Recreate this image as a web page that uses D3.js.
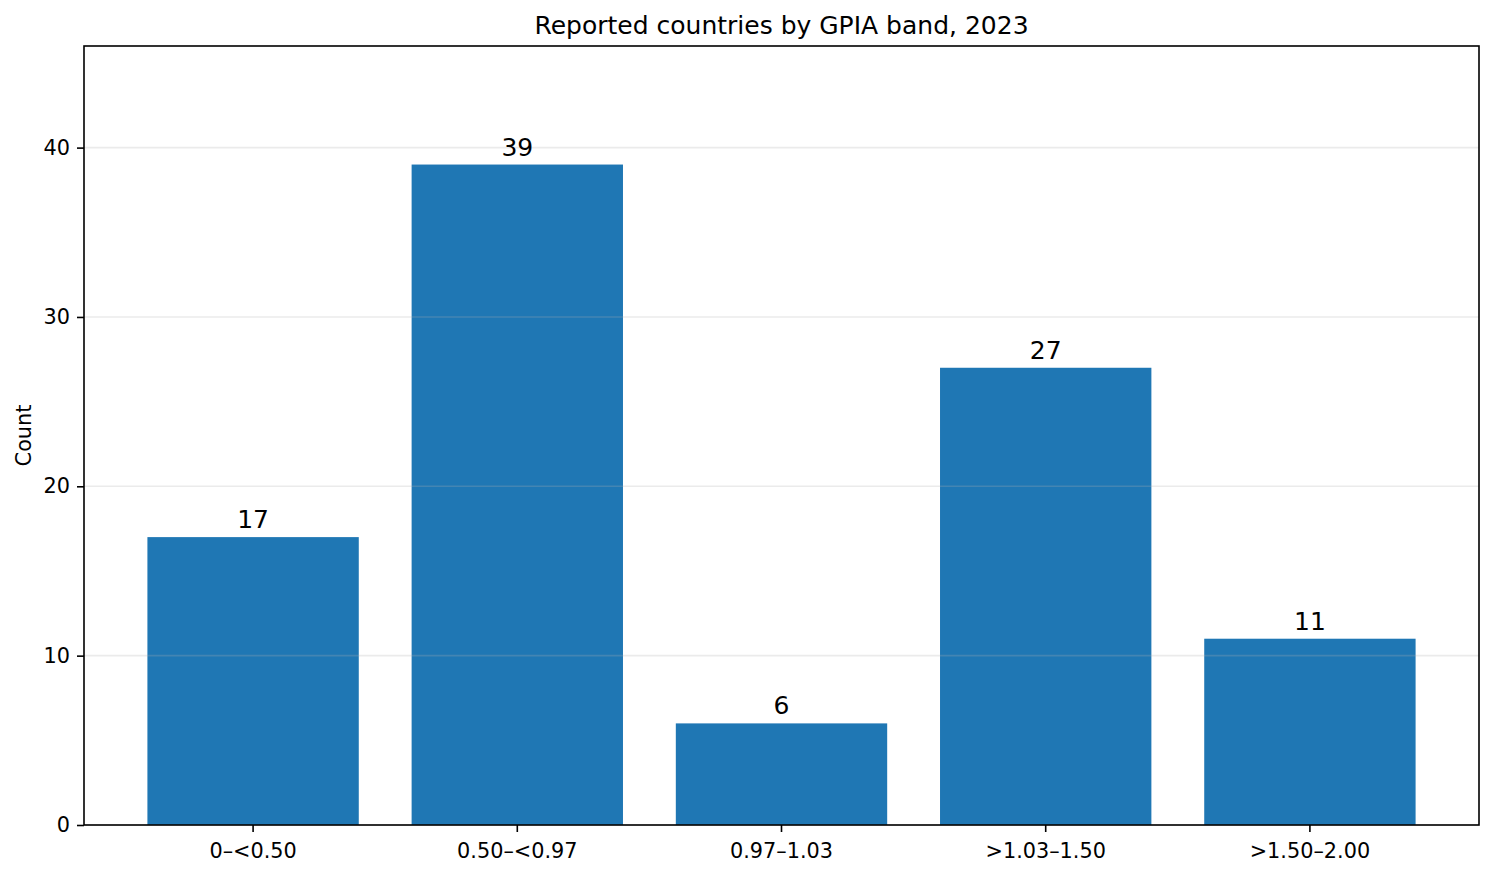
<!DOCTYPE html>
<html>
<head>
<meta charset="utf-8">
<script src="https://cdn.jsdelivr.net/npm/d3@7"></script>
<style>
  html, body { margin: 0; padding: 0; background: #fff; }
  svg { display: block; font-family: "DejaVu Sans", sans-serif; }
</style>
</head>
<body>
<svg id="chart" width="1494" height="875"></svg>
<script>
// values
var bands = ["0\u2013<0.50", "0.50\u2013<0.97", "0.97\u20131.03", ">1.03\u20131.50", ">1.50\u20132.00"];
var counts = [17, 39, 6, 27, 11];
var yTicks = [0, 10, 20, 30, 40];
var yMax = 46;

var chartTitle = "Reported countries by GPIA band, 2023";
var yLabel = "Count";

// plot box (note: "top" is reserved on window, so use other names)
var plotLeft = 84, plotRight = 1479, plotTop = 46, plotBottom = 825;

var svg = d3.select('#chart');

var x = d3.scaleBand()
    .domain(bands)
    .range([plotLeft, plotRight])
    .paddingInner(0.2)
    .paddingOuter(0.24);

var y = d3.scaleLinear()
    .domain([0, yMax])
    .range([plotBottom, plotTop]);

// bars
svg.append('g')
    .selectAll('rect')
    .data(counts)
    .enter()
    .append('rect')
    .attr('x', function (d, i) { return x(bands[i]); })
    .attr('y', function (d) { return y(d); })
    .attr('width', x.bandwidth())
    .attr('height', function (d) { return y(0) - y(d); })
    .attr('fill', '#1f77b4');

// grid sits above the bars, like matplotlib's default
svg.append('g')
    .selectAll('line')
    .data(yTicks)
    .enter()
    .append('line')
    .attr('x1', plotLeft)
    .attr('x2', plotRight)
    .attr('y1', function (d) { return y(d); })
    .attr('y2', function (d) { return y(d); })
    .attr('stroke', '#b0b0b0')
    .attr('stroke-opacity', 0.25)
    .attr('stroke-width', 1.6);

// value labels
svg.append('g')
    .selectAll('text')
    .data(counts)
    .enter()
    .append('text')
    .attr('x', function (d, i) { return x(bands[i]) + x.bandwidth() / 2; })
    .attr('y', function (d) { return y(d) - 9; })
    .attr('text-anchor', 'middle')
    .attr('font-size', '25px')
    .attr('fill', '#000')
    .text(function (d) { return d; });

// axes
var yAxis = svg.append('g')
    .attr('transform', 'translate(' + plotLeft + ',0)')
    .call(d3.axisLeft(y).tickValues(yTicks).tickSize(7).tickPadding(7));

var xAxis = svg.append('g')
    .attr('transform', 'translate(0,' + plotBottom + ')')
    .call(d3.axisBottom(x).tickSize(7).tickPadding(11));

[yAxis, xAxis].forEach(function (g) {
    g.select('.domain').remove();
    g.selectAll('.tick line').attr('stroke', '#000').attr('stroke-width', 1.6);
    g.selectAll('.tick text')
        .attr('font-family', '"DejaVu Sans", sans-serif')
        .attr('font-size', '20.8px')
        .attr('fill', '#000');
});

// frame
svg.append('rect')
    .attr('x', plotLeft)
    .attr('y', plotTop)
    .attr('width', plotRight - plotLeft)
    .attr('height', plotBottom - plotTop)
    .attr('fill', 'none')
    .attr('stroke', '#000')
    .attr('stroke-width', 1.6);

svg.append('text')
    .attr('x', (plotLeft + plotRight) / 2)
    .attr('y', plotTop - 12)
    .attr('text-anchor', 'middle')
    .attr('font-size', '25px')
    .attr('fill', '#000')
    .text(chartTitle);

svg.append('text')
    .attr('transform', 'translate(31,' + ((plotTop + plotBottom) / 2) + ') rotate(-90)')
    .attr('text-anchor', 'middle')
    .attr('font-size', '20.8px')
    .attr('fill', '#000')
    .text(yLabel);
</script>
</body>
</html>
